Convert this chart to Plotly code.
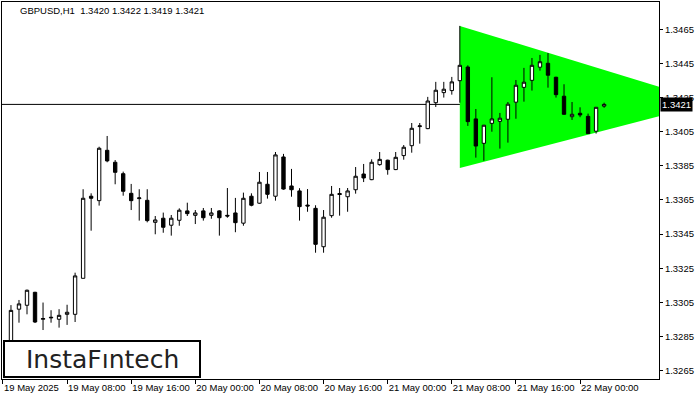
import plotly.graph_objects as go

# ---- data ----
bar_index = list(range(1, 76))
opens = [1.32780, 1.33010, 1.33033, 1.33109, 1.32951, 1.32963, 1.32951, 1.32980, 1.32980, 1.33191,
         1.33672, 1.33646, 1.33941, 1.33871, 1.33804, 1.33689, 1.33658, 1.33648, 1.33519, 1.33543,
         1.33502, 1.33531, 1.33586, 1.33560, 1.33586, 1.33560, 1.33586, 1.33560, 1.33574, 1.33514,
         1.33672, 1.33631, 1.33742, 1.33672, 1.33902, 1.33732, 1.33703, 1.33620, 1.33601, 1.33376,
         1.33558, 1.33688, 1.33669, 1.33710, 1.33802, 1.33769, 1.33857, 1.33883, 1.33828, 1.33910,
         1.33968, 1.34080, 1.34068, 1.34220, 1.34279, 1.34291, 1.34349, 1.34429, 1.34125, 1.33982,
         1.34099, 1.34111, 1.34123, 1.34223, 1.34310, 1.34351, 1.34428, 1.34451, 1.34369, 1.34258,
         1.34138, 1.34158, 1.34140, 1.34053, 1.34200]
highs = [1.33034, 1.33064, 1.33125, 1.33112, 1.33049, 1.33004, 1.33010, 1.33036, 1.33224, 1.33713,
         1.33689, 1.33962, 1.34025, 1.33884, 1.33816, 1.33744, 1.33713, 1.33713, 1.33556, 1.33576,
         1.33562, 1.33601, 1.33634, 1.33591, 1.33603, 1.33603, 1.33590, 1.33720, 1.33662, 1.33693,
         1.33689, 1.33814, 1.33814, 1.33931, 1.33920, 1.33832, 1.33719, 1.33714, 1.33619, 1.33591,
         1.33732, 1.33720, 1.33720, 1.33843, 1.33861, 1.33888, 1.33931, 1.33886, 1.33931, 1.33972,
         1.34101, 1.34101, 1.34254, 1.34342, 1.34342, 1.34371, 1.34670, 1.34439, 1.34183, 1.34090,
         1.34369, 1.34160, 1.34224, 1.34353, 1.34424, 1.34482, 1.34500, 1.34511, 1.34372, 1.34328,
         1.34224, 1.34193, 1.34156, 1.34193, 1.34220]
lows = [1.32720, 1.32931, 1.32980, 1.32929, 1.32888, 1.32931, 1.32902, 1.32918, 1.32935, 1.33190,
        1.33470, 1.33617, 1.33871, 1.33742, 1.33675, 1.33591, 1.33529, 1.33519, 1.33449, 1.33458,
        1.33441, 1.33499, 1.33556, 1.33509, 1.33529, 1.33540, 1.33441, 1.33546, 1.33461, 1.33499,
        1.33613, 1.33628, 1.33658, 1.33646, 1.33710, 1.33669, 1.33529, 1.33581, 1.33341, 1.33341,
        1.33546, 1.33558, 1.33581, 1.33687, 1.33755, 1.33766, 1.33851, 1.33798, 1.33825, 1.33886,
        1.33927, 1.33980, 1.34065, 1.34195, 1.34250, 1.34267, 1.34220, 1.34084, 1.33898, 1.33880,
        1.34050, 1.33951, 1.33986, 1.34126, 1.34226, 1.34291, 1.34408, 1.34308, 1.34250, 1.34150,
        1.34119, 1.34135, 1.34039, 1.34039, 1.34190]
closes = [1.33003, 1.33041, 1.33121, 1.32935, 1.32955, 1.32960, 1.32974, 1.32992, 1.33205, 1.33660,
          1.33660, 1.33953, 1.33879, 1.33812, 1.33701, 1.33646, 1.33662, 1.33529, 1.33533, 1.33490,
          1.33543, 1.33590, 1.33570, 1.33574, 1.33546, 1.33574, 1.33546, 1.33556, 1.33517, 1.33660,
          1.33619, 1.33754, 1.33683, 1.33914, 1.33714, 1.33710, 1.33611, 1.33615, 1.33390, 1.33549,
          1.33683, 1.33682, 1.33703, 1.33789, 1.33779, 1.33871, 1.33888, 1.33828, 1.33900, 1.33959,
          1.34070, 1.34084, 1.34230, 1.34293, 1.34299, 1.34342, 1.34439, 1.34109, 1.33966, 1.34088,
          1.34125, 1.34129, 1.34211, 1.34322, 1.34340, 1.34439, 1.34460, 1.34381, 1.34267, 1.34152,
          1.34152, 1.34148, 1.34039, 1.34193, 1.34210]

tick_positions = [0, 8, 16, 24, 32, 40, 48, 56, 64, 72]
tick_labels = ["19 May 2025", "19 May 08:00", "19 May 16:00", "20 May 00:00", "20 May 08:00",
               "20 May 16:00", "21 May 00:00", "21 May 08:00", "21 May 16:00", "22 May 00:00"]
price_ticks = [1.3265, 1.3285, 1.3305, 1.3325, 1.3345, 1.3365, 1.3385, 1.3405, 1.3425, 1.3445, 1.3465]

triangle_x = [57, 57, 88.4]
triangle_y = [1.34670, 1.33837, 1.34220]

current_price = 1.3421
header = "GBPUSD,H1\u00a0 1.3420 1.3422 1.3419 1.3421"

FONT = "Liberation Sans"

fig = go.Figure()

fig.add_trace(go.Candlestick(
    x=bar_index, open=opens, high=highs, low=lows, close=closes,
    increasing=dict(line=dict(color="black", width=1), fillcolor="white"),
    decreasing=dict(line=dict(color="black", width=1), fillcolor="black"),
    whiskerwidth=0, showlegend=False, hoverinfo="skip"))

# triangle pattern (below the candles)
tri_path = "M " + " L ".join(f"{x},{y}" for x, y in zip(triangle_x, triangle_y)) + " Z"
fig.add_shape(type="path", path=tri_path, xref="x", yref="y",
              fillcolor="#00FF00", line=dict(width=0), layer="below")

# current price line
fig.add_shape(type="line", xref="paper", yref="y", x0=0, x1=1,
              y0=current_price, y1=current_price,
              line=dict(color="black", width=1), layer="below")

fig.update_layout(
    width=700, height=400,
    margin=dict(l=2, r=41, t=2, b=21, autoexpand=False),
    paper_bgcolor="white", plot_bgcolor="white",
    font=dict(family=FONT, size=9.5, color="black"),
    boxgap=0.4,
    showlegend=False,
)

fig.update_xaxes(
    range=[-0.12, 81.85], rangeslider_visible=False,
    tickmode="array", tickvals=tick_positions, ticktext=tick_labels,
    ticks="outside", ticklen=4, tickcolor="black", tickwidth=1,
    ticklabelposition="outside right", tickangle=0, automargin=False,
    showline=True, linecolor="black", linewidth=1, mirror=True,
    showgrid=False, zeroline=False,
    tickfont=dict(family=FONT, size=9.5, color="black"),
)

fig.update_yaxes(
    side="right", range=[1.32601, 1.34810], automargin=False,
    tickmode="array", tickvals=price_ticks, ticktext=[f"{v:.4f}" for v in price_ticks],
    ticks="outside", ticklen=3, tickcolor="black", tickwidth=1,
    showline=True, linecolor="black", linewidth=1, mirror=True,
    showgrid=False, zeroline=False,
    tickfont=dict(family=FONT, size=9.5, color="black"),
)

# header text
fig.add_annotation(
    text=header, xref="paper", yref="paper",
    x=16 / 657, y=1 - 9 / 377, xanchor="left", yanchor="middle",
    showarrow=False, font=dict(family=FONT, size=9.5, color="black"))

# current price label
fig.add_annotation(
    text=f"{current_price:.4f}", xref="paper", yref="y",
    x=1, y=current_price, xanchor="left", yanchor="middle", xshift=1,
    showarrow=False, bgcolor="black", borderpad=1,
    font=dict(family=FONT, size=9.5, color="white"))

# logo box
fig.add_shape(
    type="rect", xref="paper", yref="paper",
    x0=2 / 657, x1=198 / 657, y0=2 / 377, y1=38 / 377,
    line=dict(color="black", width=2), fillcolor="white", layer="above")
fig.add_annotation(
    text="InstaF\u0131ntech", xref="paper", yref="paper",
    x=100 / 657, y=20 / 377, xanchor="center", yanchor="middle",
    showarrow=False, font=dict(family="DejaVu Sans", size=25, color="#222222"))

fig.write_html("out.html",
               config={"displayModeBar": False},
               post_script="document.body.style.margin='0';document.body.style.overflow='hidden';")
